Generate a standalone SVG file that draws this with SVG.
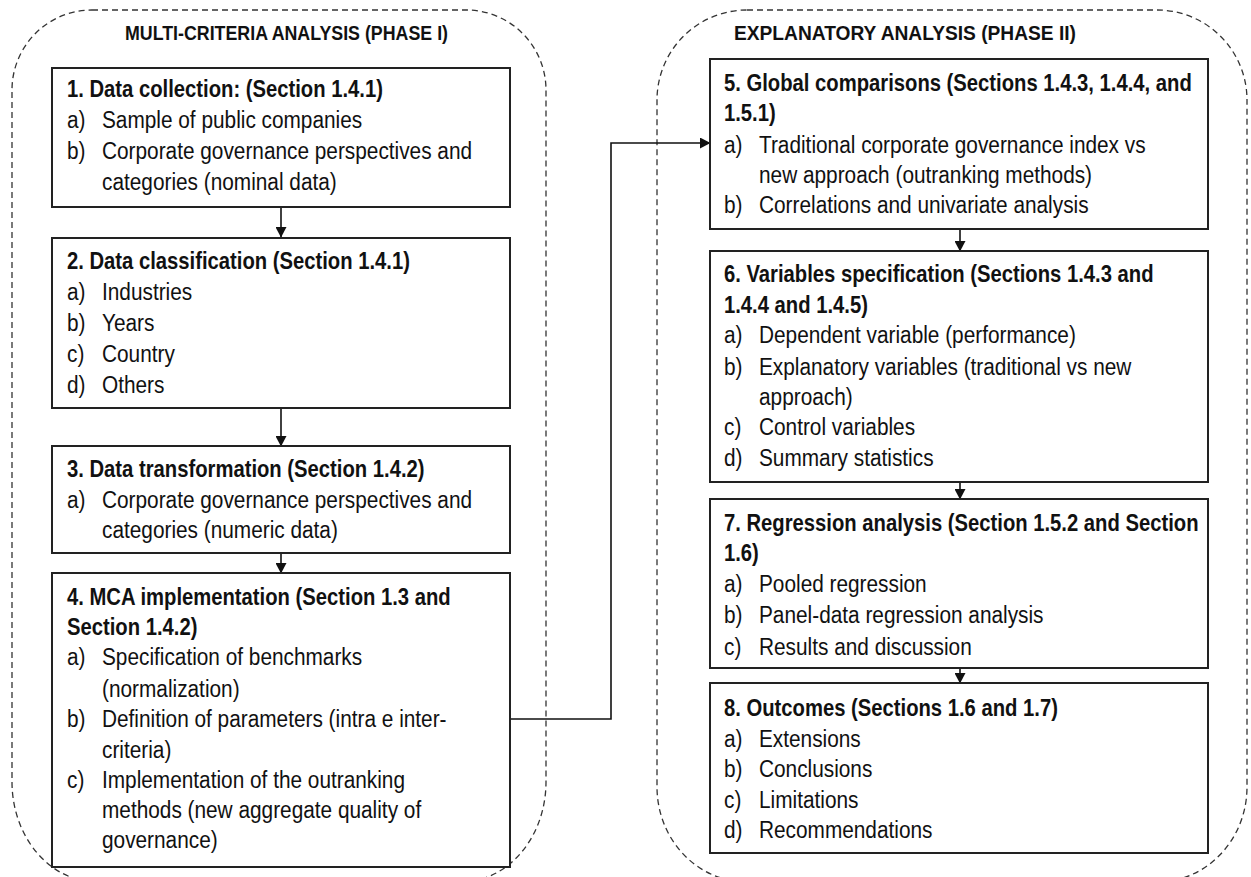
<svg xmlns="http://www.w3.org/2000/svg" width="1251" height="877" viewBox="0 0 1251 877">
  <defs>
    <marker id="ah" markerUnits="userSpaceOnUse" markerWidth="11" markerHeight="11" refX="10" refY="5.5" orient="auto">
      <path d="M0,0 L10.5,5.5 L0,11 Z" fill="#111"/>
    </marker>
    <style>
      .ct{fill:none;stroke:#333;stroke-width:1.3;stroke-dasharray:6 4}
      .bx{fill:#fff;stroke:#222;stroke-width:2}
      .tx{font-family:"Liberation Sans",Arial,sans-serif;font-size:23px;fill:#111;transform-box:fill-box;transform-origin:0 0;transform:scaleX(0.905)}
      .tx.b{font-weight:bold;transform:scaleX(0.88)}
      .hd{font-family:"Liberation Sans",Arial,sans-serif;font-size:20px;font-weight:bold;fill:#111}
      .cn{fill:none;stroke:#111;stroke-width:1.6}
    </style>
  </defs>
  <rect width="1251" height="877" fill="#fff"/>

  <!-- phase containers -->
  <g id="phase1">
    <path class="ct" d="M92,10 H466 A80,80 0 0 1 546,90 V782 A85,100 0 0 1 461,882 H97 A85,100 0 0 1 12,782 V90 A80,80 0 0 1 92,10 Z"/>
    <text class="hd" x="125" y="40" textLength="323" lengthAdjust="spacingAndGlyphs">MULTI-CRITERIA ANALYSIS (PHASE I)</text>
  </g>
  <g id="phase2">
    <path class="ct" d="M747,10 H1157 A90,90 0 0 1 1247,100 V787 A90,95 0 0 1 1157,882 H747 A90,95 0 0 1 657,787 V100 A90,90 0 0 1 747,10 Z"/>
    <text class="hd" x="734" y="40" textLength="342" lengthAdjust="spacingAndGlyphs">EXPLANATORY ANALYSIS (PHASE II)</text>
  </g>

  <!-- connectors -->
  <g id="connectors">
    <line class="cn" x1="281" y1="207" x2="281" y2="237" marker-end="url(#ah)"/>
    <line class="cn" x1="281" y1="408" x2="281" y2="446" marker-end="url(#ah)"/>
    <line class="cn" x1="281" y1="553" x2="281" y2="573" marker-end="url(#ah)"/>
    <polyline class="cn" points="510,719 611,719 611,143 710,143" marker-end="url(#ah)"/>
    <line class="cn" x1="960" y1="229" x2="960" y2="251" marker-end="url(#ah)"/>
    <line class="cn" x1="960" y1="482" x2="960" y2="499" marker-end="url(#ah)"/>
    <line class="cn" x1="960" y1="668" x2="960" y2="683" marker-end="url(#ah)"/>
  </g>

  <!-- step 1 -->
  <g id="step1">
    <rect class="bx" x="52" y="68" width="458" height="139"/>
    <text class="tx b" x="67" y="97">1. Data collection: (Section 1.4.1)</text>
    <text class="tx" x="67" y="128">a)</text><text class="tx" x="102" y="128">Sample of public companies</text>
    <text class="tx" x="67" y="159">b)</text><text class="tx" x="102" y="159">Corporate governance perspectives and</text>
    <text class="tx" x="102" y="190">categories (nominal data)</text>
  </g>

  <!-- step 2 -->
  <g id="step2">
    <rect class="bx" x="52" y="238" width="458" height="170"/>
    <text class="tx b" x="67" y="269">2. Data classification (Section 1.4.1)</text>
    <text class="tx" x="67" y="300">a)</text><text class="tx" x="102" y="300">Industries</text>
    <text class="tx" x="67" y="331">b)</text><text class="tx" x="102" y="331">Years</text>
    <text class="tx" x="67" y="362">c)</text><text class="tx" x="102" y="362">Country</text>
    <text class="tx" x="67" y="393">d)</text><text class="tx" x="102" y="393">Others</text>
  </g>

  <!-- step 3 -->
  <g id="step3">
    <rect class="bx" x="52" y="446" width="458" height="107"/>
    <text class="tx b" x="67" y="477">3. Data transformation (Section 1.4.2)</text>
    <text class="tx" x="67" y="508">a)</text><text class="tx" x="102" y="508">Corporate governance perspectives and</text>
    <text class="tx" x="102" y="538">categories (numeric data)</text>
  </g>

  <!-- step 4 -->
  <g id="step4">
    <rect class="bx" x="52" y="573" width="458" height="294"/>
    <text class="tx b" x="67" y="605">4. MCA implementation (Section 1.3 and</text>
    <text class="tx b" x="67" y="635">Section 1.4.2)</text>
    <text class="tx" x="67" y="665">a)</text><text class="tx" x="102" y="665">Specification of benchmarks</text>
    <text class="tx" x="102" y="697">(normalization)</text>
    <text class="tx" x="67" y="727">b)</text><text class="tx" x="102" y="727">Definition of parameters (intra e inter-</text>
    <text class="tx" x="102" y="758">criteria)</text>
    <text class="tx" x="67" y="788">c)</text><text class="tx" x="102" y="788">Implementation of the outranking</text>
    <text class="tx" x="102" y="818">methods (new aggregate quality of</text>
    <text class="tx" x="102" y="848">governance)</text>
  </g>

  <!-- step 5 -->
  <g id="step5">
    <rect class="bx" x="710" y="59" width="498" height="170"/>
    <text class="tx b" x="724" y="91">5. Global comparisons (Sections 1.4.3, 1.4.4, and</text>
    <text class="tx b" x="724" y="121">1.5.1)</text>
    <text class="tx" x="724" y="153">a)</text><text class="tx" x="759" y="153">Traditional corporate governance index vs</text>
    <text class="tx" x="759" y="183">new approach (outranking methods)</text>
    <text class="tx" x="724" y="213">b)</text><text class="tx" x="759" y="213">Correlations and univariate analysis</text>
  </g>

  <!-- step 6 -->
  <g id="step6">
    <rect class="bx" x="710" y="251" width="498" height="231"/>
    <text class="tx b" x="724" y="282">6. Variables specification (Sections 1.4.3 and</text>
    <text class="tx b" x="724" y="313">1.4.4 and 1.4.5)</text>
    <text class="tx" x="724" y="343">a)</text><text class="tx" x="759" y="343">Dependent variable (performance)</text>
    <text class="tx" x="724" y="375">b)</text><text class="tx" x="759" y="375">Explanatory variables (traditional vs new</text>
    <text class="tx" x="759" y="405">approach)</text>
    <text class="tx" x="724" y="435">c)</text><text class="tx" x="759" y="435">Control variables</text>
    <text class="tx" x="724" y="466">d)</text><text class="tx" x="759" y="466">Summary statistics</text>
  </g>

  <!-- step 7 -->
  <g id="step7">
    <rect class="bx" x="710" y="499" width="498" height="169"/>
    <text class="tx b" x="724" y="531">7. Regression analysis (Section 1.5.2 and Section</text>
    <text class="tx b" x="724" y="561">1.6)</text>
    <text class="tx" x="724" y="592">a)</text><text class="tx" x="759" y="592">Pooled regression</text>
    <text class="tx" x="724" y="623">b)</text><text class="tx" x="759" y="623">Panel-data regression analysis</text>
    <text class="tx" x="724" y="655">c)</text><text class="tx" x="759" y="655">Results and discussion</text>
  </g>

  <!-- step 8 -->
  <g id="step8">
    <rect class="bx" x="710" y="683" width="498" height="170"/>
    <text class="tx b" x="724" y="716">8. Outcomes (Sections 1.6 and 1.7)</text>
    <text class="tx" x="724" y="747">a)</text><text class="tx" x="759" y="747">Extensions</text>
    <text class="tx" x="724" y="777">b)</text><text class="tx" x="759" y="777">Conclusions</text>
    <text class="tx" x="724" y="808">c)</text><text class="tx" x="759" y="808">Limitations</text>
    <text class="tx" x="724" y="838">d)</text><text class="tx" x="759" y="838">Recommendations</text>
  </g>
</svg>
